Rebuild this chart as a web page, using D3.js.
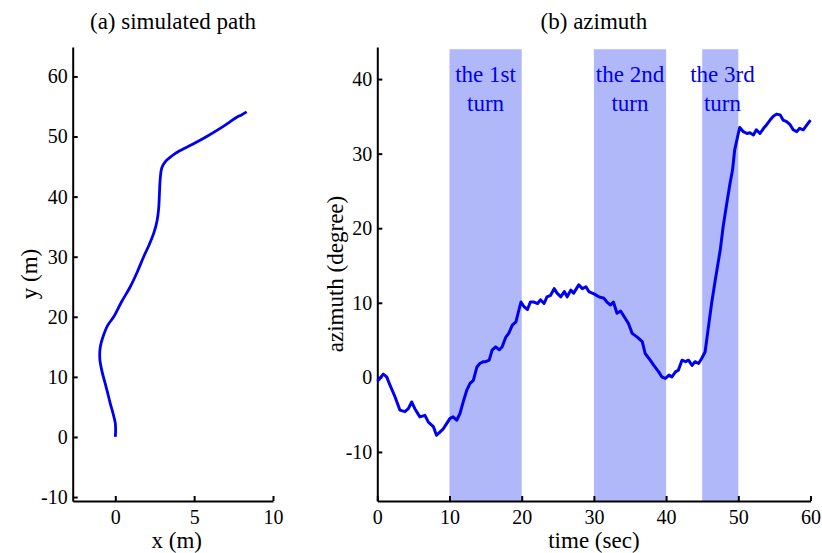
<!DOCTYPE html>
<html>
<head>
<meta charset="utf-8">
<script src="https://cdn.jsdelivr.net/npm/d3@7"></script>
<style>
  body { margin: 0; background: #fff; }
  svg text { font-family: "Liberation Serif", "Times New Roman", serif; fill: #000; }
  .axis path, .axis line { stroke: #000; stroke-width: 2px; }
  .axis text { font-size: 20px; }
</style>
</head>
<body>
<div id="chart"></div>
<script>
// (a) simulated path, points in metres
const pathX = [0, 0.02, 0, -0.15, -0.32, -0.5, -0.65, -0.85, -0.98, -0.95, -0.8, -0.5, -0.1, 0.4, 0.95, 1.4, 1.8, 2.15, 2.45, 2.65, 2.75, 2.8, 2.85, 2.95, 3.2, 3.6, 4.0, 4.9, 5.8, 6.8, 7.7, 8.0, 8.33];
const pathY = [0, 1, 2.3, 4, 5.6, 7.5, 9, 11, 13, 15, 16.5, 18.5, 20, 22.5, 25, 27.5, 30, 32, 34, 36, 38, 40.5, 43, 44.8, 45.9, 46.8, 47.5, 48.7, 50, 51.6, 53.2, 53.6, 54.1];

// (b) azimuth over time
const timeSec = [0, 0.14, 0.83, 1.3, 1.76, 2.45, 3.14, 3.83, 4.3, 4.76, 5.2, 5.9, 6.6, 7.07, 7.76, 8.2, 8.7, 9.14, 9.6, 10.07, 10.5, 11.0, 11.45, 11.9, 12.4, 12.84, 13.3, 13.8, 14.2, 14.7,
  15.0, 15.5, 15.9, 16.4, 16.9, 17.3, 17.8, 18.2, 18.7, 19.2, 19.6, 19.9, 20.3, 20.8, 21.2, 21.7, 22.2, 22.6, 23.1, 23.5, 24.0, 24.5, 24.9, 25.4, 25.9, 26.3, 26.8, 27.2, 27.9, 28.4, 28.9, 29.3,
  30.0, 30.7, 31.4, 31.8, 32.3, 32.7, 33.2, 33.7, 34.35, 34.8, 35.3, 36.0, 36.7, 37.1, 37.8, 38.3, 39.0, 39.4, 39.9, 40.4, 40.8, 41.3, 41.7, 42.2, 42.7, 43.1, 43.6, 44.0, 44.5, 44.9,
  45.4, 45.8, 46.3, 46.8, 47.5, 47.9, 48.4, 48.85, 49.2, 49.5, 50.0, 50.2, 50.7, 51.2, 51.6, 52.1, 52.5, 53.0, 53.5, 53.9, 54.4, 54.85, 55.3, 55.8, 56.2, 56.7, 57.2, 57.6, 58.1, 58.5, 59.0, 59.5, 60.0];
const azimuth = [-0.5, -0.38, 0.43, 0.07, -1.05, -2.6, -4.4, -4.6, -4.2, -3.3, -4.2, -5.3, -5.1, -6.0, -6.6, -7.76, -7.3, -6.9, -6.2, -5.5, -5.3, -5.75, -4.85, -3.3, -1.7, -0.8, -0.4, 1.4, 1.86, 2.1,
  2.1, 2.3, 3.65, 4.1, 3.7, 4.1, 5.4, 5.9, 7.0, 7.45, 9.0, 10.1, 9.5, 9.1, 10.1, 10.1, 9.9, 10.4, 9.9, 10.8, 11.0, 11.9, 11.3, 10.8, 11.5, 10.8, 11.7, 11.3, 12.4, 11.9, 12.15, 11.5,
  11.2, 10.8, 10.6, 10.1, 9.7, 10.1, 8.6, 8.9, 7.9, 7.2, 5.9, 5.4, 4.8, 3.2, 2.3, 1.6, 0.7, 0.07, -0.15, 0.3, 0.07, 0.74, 0.97, 2.3, 2.1, 2.3, 1.6, 2.1, 1.86, 2.5,
  3.4, 6.3, 9.9, 13.0, 17.1, 20.2, 23.3, 26.0, 27.8, 30.5, 32.7, 33.5, 32.95, 32.7, 32.8, 32.5, 33.2, 32.7, 33.4, 33.85, 34.5, 35.0, 35.3, 35.2, 34.5, 34.3, 33.85, 33.2, 32.95, 33.4, 33.2, 33.85, 34.5];

// turn periods (sec) and their labels
const turnStart = [10, 30, 45];
const turnEnd = [20, 40, 50];
const turnLabelT = [15, 35, 47.8];
const turnLine1 = ["the 1st", "the 2nd", "the 3rd"];
const turnLine2 = ["turn", "turn", "turn"];

const pathXTicks = [0, 5, 10];
const pathYTicks = [-10, 0, 10, 20, 30, 40, 50, 60];
const timeTicks = [0, 10, 20, 30, 40, 50, 60];
const azTicks = [-10, 0, 10, 20, 30, 40];

const W = 822, H = 553;
const svg = d3.select('#chart').append('svg')
    .attr('width', W)
    .attr('height', H);

const plotTop = 47, plotBottom = 501;
const blue = '#0000f0';
const plainFmt = d => String(d); // hyphen minus like the original

// ---------- panel (a) ----------
const xA = d3.scaleLinear().domain([-2.7, 10]).range([72.7, 273]);
const yA = d3.scaleLinear().domain([-10.66, 64.9]).range([plotBottom, plotTop]);

svg.append('g')
    .attr('class', 'axis')
    .attr('transform', `translate(0,${plotBottom})`)
    .call(d3.axisBottom(xA).tickValues(pathXTicks).tickFormat(plainFmt)
        .tickSize(-5).tickSizeOuter(0).tickPadding(9));

svg.append('g')
    .attr('class', 'axis')
    .attr('transform', `translate(${xA.range()[0]},0)`)
    .call(d3.axisLeft(yA).tickValues(pathYTicks).tickFormat(plainFmt)
        .tickSize(-5).tickSizeOuter(0).tickPadding(5));

svg.append('path')
    .datum(d3.range(pathX.length))
    .attr('fill', 'none')
    .attr('stroke', blue)
    .attr('stroke-width', 2.8)
    .attr('stroke-linejoin', 'round')
    .attr('d', d3.line()
        .curve(d3.curveCatmullRom)
        .x(i => xA(pathX[i]))
        .y(i => yA(pathY[i])));

svg.append('text')
    .attr('x', 173).attr('y', 29)
    .attr('text-anchor', 'middle')
    .style('font-size', '23px')
    .text('(a) simulated path');

svg.append('text')
    .attr('x', xA(3.9)).attr('y', 548)
    .attr('text-anchor', 'middle')
    .style('font-size', '23px')
    .text('x (m)');

svg.append('text')
    .attr('transform', `translate(37,${(plotTop + plotBottom) / 2}) rotate(-90)`)
    .attr('text-anchor', 'middle')
    .style('font-size', '23px')
    .text('y (m)');

// ---------- panel (b) ----------
const xB = d3.scaleLinear().domain([0, 60]).range([377.3, 810.5]);
const yB = d3.scaleLinear().domain([-16.58, 44.3]).range([plotBottom, plotTop]);

// shaded turn regions
svg.selectAll('.turn')
    .data(turnStart)
    .enter()
    .append('rect')
    .attr('class', 'turn')
    .attr('x', (d, i) => xB(d))
    .attr('width', (d, i) => xB(turnEnd[i]) - xB(d))
    .attr('y', yB(44))
    .attr('height', yB(-16.58) - yB(44))
    .attr('fill', '#b0b8fa');

svg.append('g')
    .attr('class', 'axis')
    .attr('transform', `translate(0,${plotBottom})`)
    .call(d3.axisBottom(xB).tickValues(timeTicks).tickFormat(plainFmt)
        .tickSize(-5).tickSizeOuter(0).tickPadding(9));

svg.append('g')
    .attr('class', 'axis')
    .attr('transform', `translate(${xB.range()[0]},0)`)
    .call(d3.axisLeft(yB).tickValues(azTicks).tickFormat(plainFmt)
        .tickSize(-5).tickSizeOuter(0).tickPadding(5));

svg.append('path')
    .datum(d3.range(timeSec.length))
    .attr('fill', 'none')
    .attr('stroke', blue)
    .attr('stroke-width', 3)
    .attr('stroke-linejoin', 'round')
    .attr('d', d3.line()
        .x(i => xB(timeSec[i]))
        .y(i => yB(azimuth[i])));

// turn labels
turnLabelT.forEach((t, i) => {
    svg.append('text')
        .attr('x', xB(t)).attr('y', 82)
        .attr('text-anchor', 'middle')
        .style('font-size', '23px')
        .style('fill', blue)
        .text(turnLine1[i]);
    svg.append('text')
        .attr('x', xB(t)).attr('y', 111)
        .attr('text-anchor', 'middle')
        .style('font-size', '23px')
        .style('fill', blue)
        .text(turnLine2[i]);
});

svg.append('text')
    .attr('x', (xB.range()[0] + xB.range()[1]) / 2).attr('y', 29)
    .attr('text-anchor', 'middle')
    .style('font-size', '23px')
    .text('(b) azimuth');

svg.append('text')
    .attr('x', xB(30)).attr('y', 548)
    .attr('text-anchor', 'middle')
    .style('font-size', '23px')
    .text('time (sec)');

svg.append('text')
    .attr('transform', `translate(343,${(plotTop + plotBottom) / 2}) rotate(-90)`)
    .attr('text-anchor', 'middle')
    .style('font-size', '23px')
    .text('azimuth (degree)');
</script>
</body>
</html>
